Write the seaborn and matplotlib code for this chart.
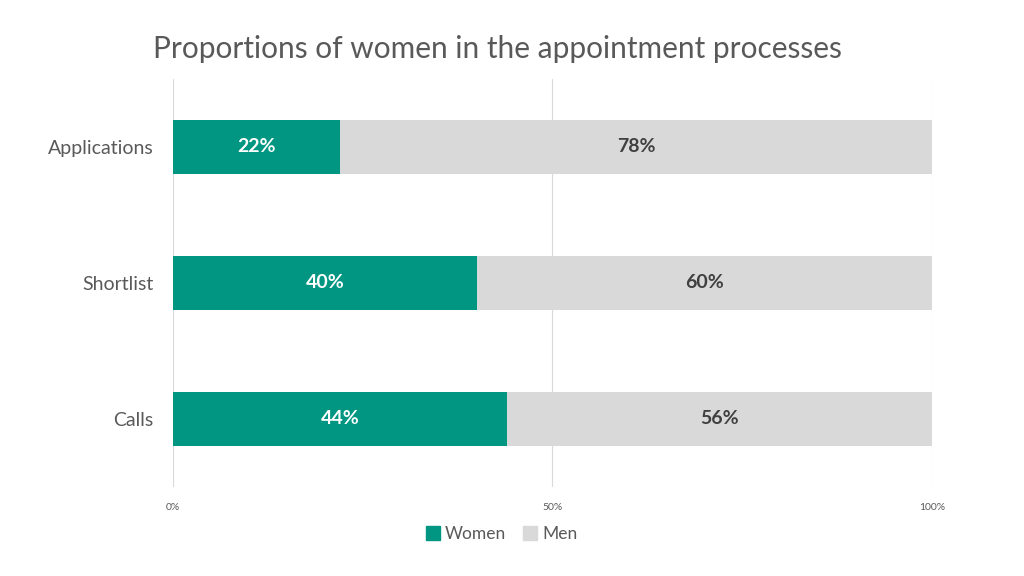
import numpy as np
import pandas as pd
import matplotlib
matplotlib.use("Agg")
import matplotlib.pyplot as plt
import seaborn as sns
from matplotlib.patches import Patch

# Data
stages = ["Applications", "Shortlist", "Calls"]
women = [22, 40, 44]
men = [78, 60, 56]
ticks = [0, 50, 100]
tick_labels = ["0%", "50%", "100%"]

GREEN = "#009681"
GREY = "#D9D9D9"
TEXT = "#595959"

sns.set_theme(style="white")
plt.rcParams["font.family"] = ["Lato", "DejaVu Sans"]

df = pd.DataFrame({"stage": stages, "women": women, "men": men})
df["total"] = df["women"] + df["men"]

fig = plt.figure(figsize=(10.24, 5.76), dpi=100)
ax = fig.add_axes([0.169, 0.155, 0.741, 0.708])

# stacked look: full bar for men, women drawn over it
sns.barplot(data=df, y="stage", x="total", color=GREY, width=0.4,
            orient="h", ax=ax, saturation=1, linewidth=0, zorder=2)
sns.barplot(data=df, y="stage", x="women", color=GREEN, width=0.4,
            orient="h", ax=ax, saturation=1, linewidth=0, zorder=3)

for i, (w, m) in enumerate(zip(women, men)):
    ax.text(w / 2, i, f"{w}%", ha="center", va="center", color="white",
            fontsize=14, fontweight="bold", zorder=4)
    ax.text(w + m / 2, i, f"{m}%", ha="center", va="center", color="#404040",
            fontsize=14, fontweight="bold", zorder=4)

ax.set_xlim(0, 100)
ax.set_ylim(2.5, -0.5)
ax.set_xticks(ticks)
ax.set_xticklabels(tick_labels)
ax.tick_params(axis="x", labelsize=7.5, colors=TEXT, length=0, pad=12)
ax.tick_params(axis="y", labelsize=14, colors=TEXT, length=0, pad=14)
ax.set_xlabel("")
ax.set_ylabel("")
ax.grid(axis="x", color="#D9D9D9", linewidth=0.8, zorder=0)
for s in ax.spines.values():
    s.set_visible(False)

fig.suptitle("Proportions of women in the appointment processes",
             x=0.486, y=0.94, fontsize=21.5, color=TEXT)

handles = [Patch(color=GREEN, label="Women"), Patch(color=GREY, label="Men")]
fig.legend(handles=handles, loc="center", bbox_to_anchor=(0.49, 0.073), ncol=2,
           frameon=False, fontsize=12.5, handlelength=0.8, handleheight=0.8,
           handletextpad=0.3, columnspacing=1.0, labelcolor=TEXT)

fig.savefig("out.png", dpi=100)
